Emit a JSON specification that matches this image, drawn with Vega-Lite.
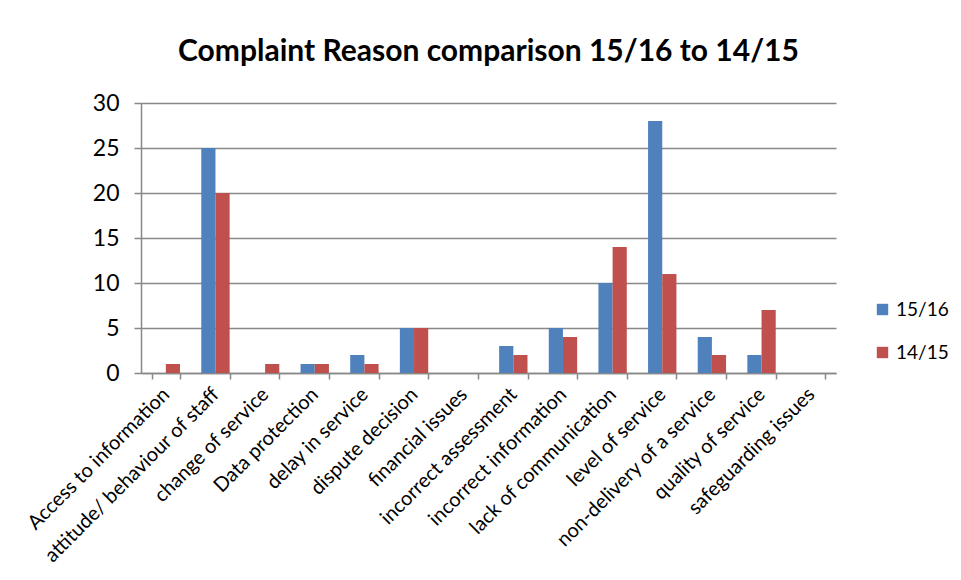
{
  "$schema": "https://vega.github.io/schema/vega-lite/v6.json",
  "autosize": "none",
  "padding": {"left": 141, "top": 103, "right": 125, "bottom": 207},
  "width": 695,
  "height": 270,
  "background": "white",
  "title": {
    "text": "Complaint Reason comparison 15/16 to 14/15",
    "font": "Lato",
    "fontSize": 30,
    "fontWeight": "bold",
    "color": "black",
    "anchor": "middle",
    "offset": 25
  },
  "config": {
    "view": {"stroke": null},
    "font": "Lato"
  },
  "data": {
    "values": [
      {"reason": "Access to information", "year": "15/16", "count": 0},
      {"reason": "Access to information", "year": "14/15", "count": 1},
      {"reason": "attitude/ behaviour of staff", "year": "15/16", "count": 25},
      {"reason": "attitude/ behaviour of staff", "year": "14/15", "count": 20},
      {"reason": "change of service", "year": "15/16", "count": 0},
      {"reason": "change of service", "year": "14/15", "count": 1},
      {"reason": "Data protection", "year": "15/16", "count": 1},
      {"reason": "Data protection", "year": "14/15", "count": 1},
      {"reason": "delay in service", "year": "15/16", "count": 2},
      {"reason": "delay in service", "year": "14/15", "count": 1},
      {"reason": "dispute decision", "year": "15/16", "count": 5},
      {"reason": "dispute decision", "year": "14/15", "count": 5},
      {"reason": "financial issues", "year": "15/16", "count": 0},
      {"reason": "financial issues", "year": "14/15", "count": 0},
      {"reason": "incorrect assessment", "year": "15/16", "count": 3},
      {"reason": "incorrect assessment", "year": "14/15", "count": 2},
      {"reason": "incorrect information", "year": "15/16", "count": 5},
      {"reason": "incorrect information", "year": "14/15", "count": 4},
      {"reason": "lack of communication", "year": "15/16", "count": 10},
      {"reason": "lack of communication", "year": "14/15", "count": 14},
      {"reason": "level of service", "year": "15/16", "count": 28},
      {"reason": "level of service", "year": "14/15", "count": 11},
      {"reason": "non-delivery of a service", "year": "15/16", "count": 4},
      {"reason": "non-delivery of a service", "year": "14/15", "count": 2},
      {"reason": "quality of service", "year": "15/16", "count": 2},
      {"reason": "quality of service", "year": "14/15", "count": 7},
      {"reason": "safeguarding issues", "year": "15/16", "count": 0},
      {"reason": "safeguarding issues", "year": "14/15", "count": 0}
    ]
  },
  "mark": {"type": "bar"},
  "encoding": {
    "x": {
      "field": "reason",
      "type": "nominal",
      "sort": null,
      "title": null,
      "scale": {"paddingInner": 0.4286, "paddingOuter": 0.2143},
      "axis": {
        "labelAngle": -45,
        "labelAlign": "right",
        "labelBaseline": "middle",
        "labelFontSize": 20,
        "labelColor": "black",
        "labelPadding": 12,
        "labelLimit": 400,
        "tickBand": "extent",
        "tickSize": 6,
        "tickColor": "#888888",
        "tickWidth": 1.5,
        "domainColor": "#888888",
        "domainWidth": 1.5,
        "grid": false
      }
    },
    "xOffset": {"field": "year", "type": "nominal", "sort": ["15/16", "14/15"]},
    "y": {
      "field": "count",
      "type": "quantitative",
      "title": null,
      "scale": {"domain": [0, 30], "nice": false},
      "axis": {
        "values": [0, 5, 10, 15, 20, 25, 30],
        "labelFontSize": 23,
        "labelColor": "black",
        "labelPadding": 15,
        "tickSize": 7,
        "tickColor": "#888888",
        "tickWidth": 1.5,
        "domainColor": "#888888",
        "domainWidth": 1.5,
        "gridColor": "#888888",
        "gridWidth": 1.5
      }
    },
    "color": {
      "field": "year",
      "type": "nominal",
      "sort": ["15/16", "14/15"],
      "scale": {"domain": ["15/16", "14/15"], "range": ["#4F81BD", "#C0504D"]},
      "legend": {
        "title": null,
        "orient": "none",
        "legendX": 732,
        "legendY": 197,
        "symbolType": "square",
        "symbolSize": 130,
        "symbolStrokeWidth": 0,
        "labelFontSize": 19,
        "labelColor": "black",
        "rowPadding": 23,
        "labelOffset": 4
      }
    }
  }
}
